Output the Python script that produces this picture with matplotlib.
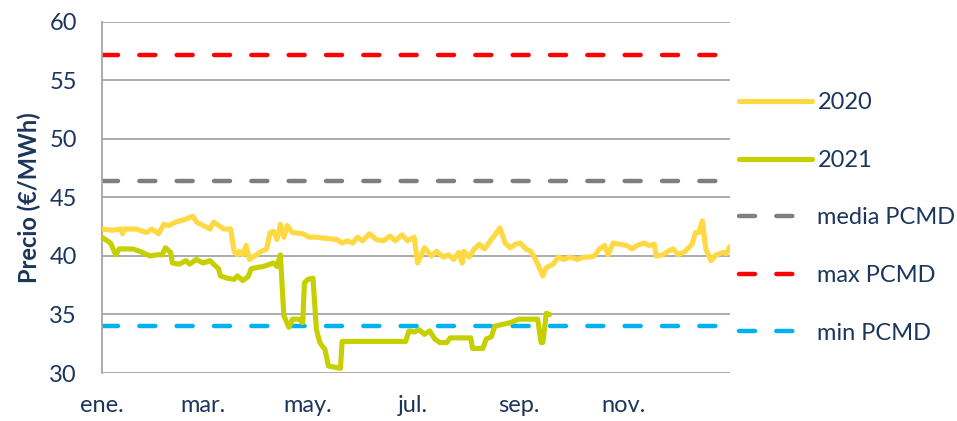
"""Precio PCMD 2020 vs 2021 — line chart with reference levels."""
import matplotlib

matplotlib.use("Agg")
import matplotlib.pyplot as plt

plt.rcParams["font.family"] = ["Lato", "DejaVu Sans"]

TEXT = "#1B365D"
GRID = "#A6A6A6"
FS = 17

# day of year -> price (EUR/MWh)
days_2020 = [0, 6, 11, 12, 13, 20, 26, 29, 33, 36, 39, 43, 48, 53, 55, 59, 63, 65, 68, 71,
             75, 77, 79, 80, 82, 84, 86, 90, 93, 96, 98, 100, 102, 104, 106, 108, 111, 117, 121, 125,
             131, 137, 140, 143, 146, 149, 152, 156, 160, 164, 168, 171, 175, 178, 182, 184, 188, 192, 195, 199,
             202, 205, 208, 210, 211, 214, 217, 220, 223, 227, 232, 235, 238, 241, 244, 247, 250, 252, 254, 257,
             259, 263, 266, 269, 273, 277, 281, 284, 287, 290, 293, 295, 298, 302, 306, 309, 312, 316, 319, 322,
             323, 327, 330, 333, 336, 340, 344, 346, 348, 350, 352, 355, 358, 362, 364, 366]
price_2020 = [42.3, 42.2, 42.3, 41.9, 42.3, 42.3, 42.0, 42.3, 41.9, 42.7, 42.6, 42.9, 43.1, 43.4, 42.9, 42.6, 42.3, 42.9, 42.6, 42.3,
              42.3, 40.4, 40.1, 40.4, 40.1, 40.9, 39.7, 40.1, 40.4, 40.6, 42.0, 42.1, 41.4, 42.7, 41.6, 42.6, 42.0, 41.9, 41.6, 41.6,
              41.5, 41.4, 41.1, 41.3, 41.1, 41.6, 41.3, 41.9, 41.4, 41.3, 41.7, 41.3, 41.8, 41.3, 41.6, 39.4, 40.7, 40.0, 40.4, 39.9,
              40.1, 39.7, 40.3, 39.4, 40.4, 39.9, 40.6, 41.0, 40.6, 41.4, 42.4, 41.1, 40.7, 41.0, 41.1, 40.6, 40.4, 39.9, 39.3, 38.3,
              39.0, 39.3, 39.9, 39.7, 39.9, 39.7, 39.9, 39.9, 40.0, 40.6, 40.9, 40.1, 41.1, 41.0, 40.9, 40.6, 40.9, 41.1, 40.9, 41.0,
              40.0, 40.1, 40.4, 40.6, 40.1, 40.4, 41.0, 42.0, 42.0, 43.0, 40.6, 39.6, 40.1, 40.3, 40.2, 40.8]

days_2021 = [0, 5, 8, 10, 14, 18, 22, 28, 32, 35, 37, 40, 41, 45, 49, 51, 55, 59, 63, 65,
             68, 69, 73, 77, 79, 82, 85, 87, 90, 94, 98, 100, 102, 104, 106, 109, 111, 115, 117, 118,
             120, 123, 125, 127, 130, 132, 139, 140, 154, 177, 179, 182, 185, 188, 191, 194, 197, 201, 203, 215,
             216, 222, 224, 227, 229, 238, 243, 254, 256, 257, 259, 261]
price_2021 = [41.6, 41.1, 40.1, 40.6, 40.6, 40.6, 40.4, 40.0, 40.1, 40.1, 40.7, 40.3, 39.4, 39.3, 39.6, 39.3, 39.7, 39.4, 39.6, 39.3,
              38.9, 38.3, 38.1, 38.0, 38.3, 37.9, 38.2, 38.9, 39.0, 39.1, 39.3, 39.4, 39.1, 40.1, 34.9, 33.9, 34.6, 34.6, 34.3, 37.7,
              38.0, 38.1, 33.7, 32.6, 32.0, 30.6, 30.4, 32.7, 32.7, 32.7, 33.6, 33.5, 33.7, 33.3, 33.6, 32.9, 32.6, 32.6, 33.0, 33.0,
              32.1, 32.1, 32.9, 33.1, 34.0, 34.3, 34.6, 34.6, 32.6, 32.6, 35.1, 35.0]

media_pcmd = 46.4
max_pcmd = 57.2
min_pcmd = 34.0

month_ticks = [0, 59, 120, 181, 243, 304]
month_labels = ["ene.", "mar.", "may.", "jul.", "sep.", "nov."]
y_ticks = [30, 35, 40, 45, 50, 55, 60]

fig = plt.figure(figsize=(9.57, 4.21), dpi=100)
ax = fig.add_axes([0.1066, 0.114, 0.656, 0.834])

for y in y_ticks:
    ax.axhline(y, color=GRID, lw=1.3, zorder=1)

dash = dict(lw=3.2, dashes=(3.6, 4.8), dash_capstyle="round")
line = dict(lw=3.7, solid_joinstyle="round", solid_capstyle="round", zorder=3)
l20, = ax.plot(days_2020, price_2020, color="#FFD944", label="2020", **line)
l21, = ax.plot(days_2021, price_2021, color="#C6D000", label="2021", **line)
lmed = ax.axhline(media_pcmd, color="#7F7F7F", zorder=2, label="media PCMD", **dash)
lmax = ax.axhline(max_pcmd, color="#FF0000", zorder=2, label="max PCMD", **dash)
lmin = ax.axhline(min_pcmd, color="#00B0F0", zorder=2, label="min PCMD", **dash)

ax.set_xlim(0, 366)
ax.set_ylim(30, 60)
ax.set_yticks(y_ticks)
ax.set_xticks(month_ticks)
ax.set_xticklabels(month_labels)
ax.tick_params(axis="both", length=0, labelsize=FS, colors=TEXT)
ax.tick_params(axis="y", pad=18)
ax.tick_params(axis="x", pad=16)
for s in ["top", "right", "bottom"]:
    ax.spines[s].set_visible(False)
ax.spines["left"].set_color(GRID)
ax.spines["left"].set_linewidth(1.3)

ax.set_ylabel("Precio (€/MWh)", fontsize=FS, fontweight="bold", color=TEXT, labelpad=6)

leg = ax.legend(handles=[l20, l21, lmed, lmax, lmin], loc="center left",
                bbox_to_anchor=(1.0, 0.4416), frameon=False, fontsize=FS,
                handlelength=3.06, handletextpad=0.25, labelspacing=1.55,
                borderaxespad=0, borderpad=0.4)
for t in leg.get_texts():
    t.set_color(TEXT)

fig.savefig("out.png", dpi=100)
